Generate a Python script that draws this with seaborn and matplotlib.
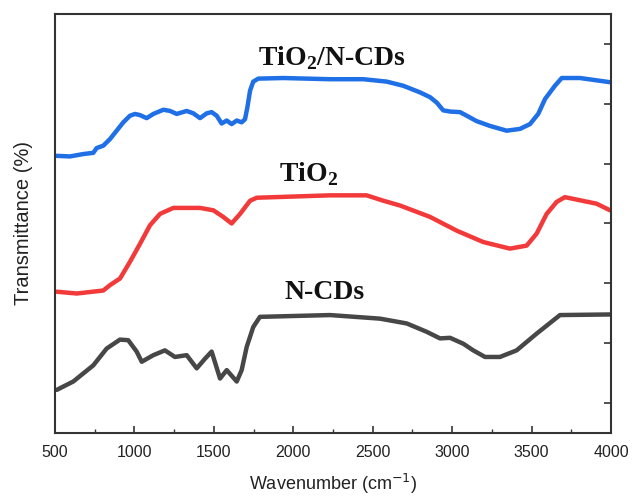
import numpy as np
import pandas as pd
import matplotlib
matplotlib.use("Agg")
import matplotlib.pyplot as plt
import seaborn as sns
from matplotlib.ticker import MultipleLocator

sns.set_style("ticks")
plt.rcParams['font.family'] = ['Liberation Sans', 'DejaVu Sans']
plt.rcParams['mathtext.fontset'] = 'custom'
plt.rcParams['mathtext.rm'] = 'Liberation Serif'
plt.rcParams['mathtext.bf'] = 'Liberation Serif:bold'

# TiO2/N-CDs (blue)
blue_x = [511, 594, 678, 741, 762, 804, 846, 888, 930, 972, 1004, 1035, 1077, 1119, 1182,
          1224, 1266, 1329, 1371, 1413, 1455, 1486, 1518, 1549, 1581, 1612, 1644, 1675,
          1696, 1711, 1728, 1748, 1780, 1937, 2231, 2441, 2588, 2693, 2798, 2861, 2903,
          2944, 2987, 3050, 3092, 3154, 3238, 3343, 3427, 3490, 3542, 3585, 3616, 3647,
          3690, 3805, 3994]
blue_y = [4.63, 4.62, 4.66, 4.68, 4.76, 4.80, 4.91, 5.05, 5.19, 5.30, 5.33, 5.31, 5.26, 5.33,
          5.40, 5.38, 5.33, 5.38, 5.34, 5.26, 5.34, 5.36, 5.30, 5.17, 5.22, 5.16, 5.22, 5.19,
          5.24, 5.44, 5.72, 5.87, 5.92, 5.93, 5.91, 5.91, 5.87, 5.80, 5.69, 5.61, 5.52,
          5.39, 5.37, 5.36, 5.30, 5.21, 5.13, 5.05, 5.08, 5.16, 5.33, 5.58, 5.69, 5.80,
          5.93, 5.93, 5.86]

# TiO2 (red)
red_x = [511, 637, 804, 846, 909, 972, 1035, 1098, 1161, 1245, 1413, 1497, 1559, 1612, 1665,
         1728, 1770, 2231, 2462, 2567, 2672, 2861, 3029, 3196, 3364, 3469, 3532, 3595, 3658,
         3710, 3910, 3994]
red_y = [2.36, 2.33, 2.38, 2.47, 2.58, 2.86, 3.16, 3.47, 3.66, 3.76, 3.76, 3.72, 3.61, 3.50,
         3.66, 3.88, 3.93, 3.97, 3.97, 3.88, 3.80, 3.61, 3.38, 3.19, 3.08, 3.13, 3.33, 3.66,
         3.86, 3.94, 3.83, 3.72]

# N-CDs (gray)
gray_x = [511, 615, 741, 825, 909, 961, 1014, 1046, 1119, 1192, 1255, 1329, 1392, 1444, 1486,
          1539, 1581, 1644, 1675, 1707, 1748, 1790, 2231, 2546, 2714, 2840, 2924, 2987, 3071,
          3133, 3207, 3301, 3406, 3532, 3679, 3994]
gray_y = [0.72, 0.86, 1.13, 1.41, 1.56, 1.55, 1.36, 1.19, 1.30, 1.38, 1.27, 1.30, 1.08, 1.24,
          1.36, 0.91, 1.05, 0.86, 1.05, 1.44, 1.77, 1.94, 1.97, 1.91, 1.83, 1.69, 1.58, 1.59,
          1.49, 1.38, 1.27, 1.27, 1.38, 1.66, 1.97, 1.98]

series_names = ["TiO$_\\mathbf{2}$/N-CDs", "TiO$_\\mathbf{2}$", "N-CDs"]
colors = ["#1f6fe6", "#f23a3a", "#474747"]
label_pos = [(2244, 6.27), (2099, 4.32), (2200, 2.35)]

fig = plt.figure(figsize=(6.33, 4.99), dpi=100)
ax = fig.add_axes([0.0869, 0.1323, 0.8783, 0.8397])

for xs, ys, c in zip([blue_x, red_x, gray_x], [blue_y, red_y, gray_y], colors):
    df = pd.DataFrame({"x": xs, "y": ys})
    sns.lineplot(data=df, x="x", y="y", ax=ax, color=c, linewidth=3.2, sort=False,
                 solid_joinstyle='round', solid_capstyle='round')

for name, (lx, ly) in zip(series_names, label_pos):
    ax.text(lx, ly, name, fontsize=20, fontweight='bold', family='Liberation Serif',
            ha='center', va='center', color='#111111')

ax.set_xlim(500, 4000)
ax.set_ylim(0, 7)
ax.xaxis.set_major_locator(MultipleLocator(500))
ax.xaxis.set_minor_locator(MultipleLocator(250))
ax.set_yticks(np.arange(0.5, 7, 1))
ax.tick_params(axis='x', which='major', direction='in', length=5, width=1.2,
               labelsize=11.5, colors='#333333', labelcolor='#222222', top=False, pad=9)
ax.tick_params(axis='x', which='minor', direction='in', length=3, width=1.0, top=False,
               colors='#333333')
ax.tick_params(axis='y', which='both', left=False, right=True, labelleft=False,
               labelright=False, direction='in', length=5, width=1.2, colors='#333333')
for s in ax.spines.values():
    s.set_linewidth(1.5)
    s.set_color('#333333')
ax.set_xlabel("Wavenumber (cm$^{-1}$)", fontsize=13, color='#222222', labelpad=8)
ax.set_ylabel("Transmittance (%)", fontsize=14.5, color='#222222', labelpad=16)
ax.xaxis.get_label().set_math_fontfamily('dejavusans')

fig.savefig("out.png", dpi=100)
